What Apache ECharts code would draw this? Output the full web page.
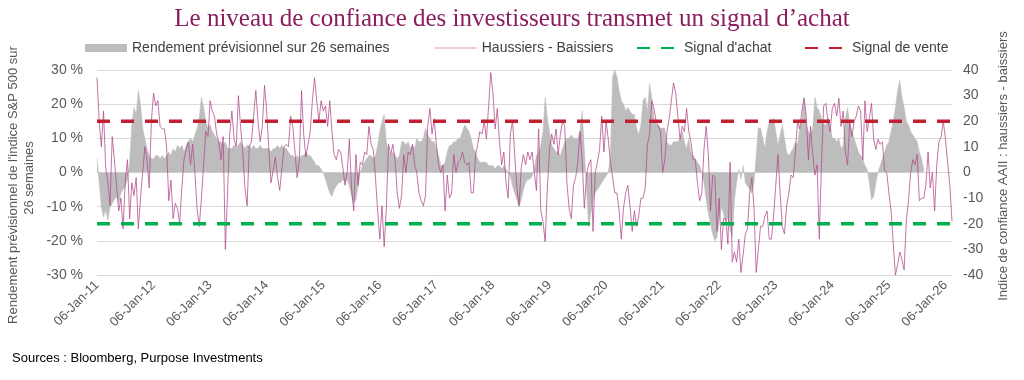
<!DOCTYPE html>
<html><head><meta charset="utf-8">
<script src="https://cdn.jsdelivr.net/npm/echarts@6/dist/echarts.min.js"></script>
<style>html,body{margin:0;padding:0;background:#fff}#c{width:1024px;height:380px}</style>
</head><body><div id="c"></div>
<script>
// Bi-weekly observations starting 06-Jan-2011
const startYear = 2011, startMonth = 0, startDay = 6, stepDays = 14, pointsPerYear = 26;

// Rendement prévisionnel sur 26 semaines (%), left axis
const fwd2011 = [4,-3,-10,-13,-11,-14,-10,-9,-8,-7,-9,-6,-5,-4,-2,3,14,19,17,24,20,13,10,7,5,4];
const fwd2012 = [4,5,5,4,5,4,5,6,5,7,6,8,7,8,6,8,9,10,9,11,13,16,22,19,15,13];
const fwd2013 = [14,12,11,10,9,9,8,9,7,7,7,8,7,8,9,8,7,8,8,7,8,7,7,8,7,7];
const fwd2014 = [7,7,6,7,7,8,7,8,7,7,6,5,5,4,5,4,5,5,6,5,5,4,3,2,2,1];
const fwd2015 = [0,-2,-4,-6,-7,-5,-4,-3,-3,-2,-3,-2,-4,-7,-9,-8,-4,0,2,3,4,5,5,4,5,8];
const fwd2016 = [12,15,17,9,6,5,6,5,4,5,9,9,8,9,7,8,7,10,9,9,10,13,11,10,9,9];
const fwd2017 = [7,5,2,2,3,6,8,8,9,9,10,10,12,14,13,12,10,7,6,4,3,3,3,3,2,2];
const fwd2018 = [2,1,2,2,1,2,1,0,-1,-4,-6,-8,-10,-8,-5,-3,-2,-2,-1,1,5,6,8,12,22,16];
const fwd2019 = [12,8,7,6,6,5,7,9,10,10,11,10,10,10,12,18,7,-5,-16,-12,-8,-6,-5,-4,-3,-2];
const fwd2020 = [-1,0,5,28,30,28,24,21,20,18,19,18,17,17,13,11,14,21,22,18,26,22,16,14,14,13];
const fwd2021 = [13,13,9,8,8,9,9,9,10,12,9,7,10,6,5,4,3,2,0,-3,-8,-12,-15,-18,-20,-19];
const fwd2022 = [-14,-10,-12,-15,-13,-17,-19,-8,-3,1,-2,2,-3,-4,-5,-6,-3,5,13,13,10,7,12,15,15,16];
const fwd2023 = [12,8,11,14,10,6,5,6,7,9,8,13,15,22,14,12,11,13,22,19,18,16,14,14,16,14];
const fwd2024 = [10,10,9,10,7,8,16,19,14,12,10,8,6,5,4,2,1,-3,-8,-7,-3,0,2,4,6,8];
const fwd2025 = [9,12,15,19,24,27,22,19,15,14,12,11,10,9,6,4,1,null,null,null,null,null,null,null,null,null];
const fwd2026 = [null,null,null,null];

// Haussiers - Baissiers (AAII bull-bear spread), right axis
const bb2011 = [37,20,10,24,2,-4,-13,14,5,-5,-15,-10,-22,-3,5,-18,-4,-9,-2,-22,-10,0,10,5,-6,20];
const bb2012 = [31,26,28,18,17,17,10,-11,-3,-18,-12,-14,-20,-6,5,9,12,3,11,0,-14,-21,-10,3,16,14];
const bb2013 = [28,24,22,15,12,5,14,-30,-8,15,24,13,10,30,18,8,-6,-13,10,12,22,32,20,12,18,34];
const bb2014 = [24,9,-4,1,6,-2,-7,2,10,11,10,22,18,8,-2,5,32,15,6,11,16,28,37,28,20,28];
const bb2015 = [24,26,18,28,16,7,5,9,8,2,-5,0,13,-6,-15,7,-5,4,3,8,7,18,11,9,-2,-15];
const bb2016 = [-26,-13,-29,-14,11,7,11,5,-8,-14,-9,7,0,8,7,11,3,0,-8,-11,-13,-9,18,25,15,21];
const bb2017 = [11,3,0,3,-15,-1,-10,-8,7,0,4,5,8,4,3,4,-8,-8,7,11,16,15,20,13,26,39];
const bb2018 = [31,17,25,12,3,8,-4,-10,15,20,7,-6,-13,2,7,3,8,5,8,0,-7,17,-15,-19,-27,-6];
const bb2019 = [9,15,11,17,7,15,20,18,-4,-14,-18,-5,-2,4,16,5,-14,-1,3,5,-23,0,4,9,22,8];
const bb2020 = [20,13,4,-2,-8,-8,-15,-26,-14,-8,-5,-13,-23,-15,-21,-17,-10,-10,-6,11,15,28,25,20,18,16];
const bb2021 = [0,5,16,21,28,35,31,22,13,18,16,25,16,12,5,5,-4,-11,-8,9,18,7,-15,-1,-2,-23];
const bb2022 = [-10,-30,-18,-18,-28,4,-35,-31,-35,-26,-39,-32,-24,-22,-8,-2,-14,-39,-30,-21,-21,-17,-15,-26,-26,-17];
const bb2023 = [-5,7,-8,-21,-24,-13,-8,-1,-2,8,20,17,24,29,22,5,18,7,-1,3,-26,3,26,27,20,16];
const bb2024 = [25,27,22,29,18,24,8,3,20,14,20,22,26,24,5,28,16,21,27,13,9,13,11,12,1,0];
const bb2025 = [-8,-15,-28,-40,-36,-31,-34,-38,-19,-11,0,5,3,7,-11,-10,-10,-5,8,-6,0,-15,3,12,14,20];
const bb2026 = [13,4,-5,-19];

const sellSignal = 20;
const buySignal = -20;

const forwardReturn = [].concat(fwd2011,fwd2012,fwd2013,fwd2014,fwd2015,fwd2016,fwd2017,fwd2018,fwd2019,fwd2020,fwd2021,fwd2022,fwd2023,fwd2024,fwd2025,fwd2026);
const bullBear = [].concat(bb2011,bb2012,bb2013,bb2014,bb2015,bb2016,bb2017,bb2018,bb2019,bb2020,bb2021,bb2022,bb2023,bb2024,bb2025,bb2026);
const categories = bullBear.map((_, i) => new Date(Date.UTC(startYear, startMonth, startDay) + i * stepDays * 864e5).toISOString().slice(0, 10));
const lastCat = categories[categories.length - 1];

const FONT = 'Liberation Sans, Arial, sans-serif';
const NAME_FWD = 'Rendement prévisionnel sur 26 semaines';
const NAME_BB = 'Haussiers - Baissiers';
const NAME_BUY = "Signal d'achat";
const NAME_SELL = 'Signal de vente';

const legendBase = {top: 36, itemWidth: 42, itemHeight: 8, itemGap: 0,
  textStyle: {fontFamily: FONT, fontSize: 14, color: '#404040'}};

const chart = echarts.init(document.getElementById('c'), null, {renderer: 'canvas'});
chart.setOption({
  animation: false,
  backgroundColor: '#ffffff',
  title: {
    text: 'Le niveau de confiance des investisseurs transmet un signal d\u2019achat',
    left: 'center', top: 2,
    textStyle: {fontFamily: 'Liberation Serif, Times New Roman, serif', fontSize: 25, fontWeight: 'normal', color: '#8c1d5e'}
  },
  legend: [
    Object.assign({}, legendBase, {left: 80, data: [{name: NAME_FWD, icon: 'rect'}]}),
    Object.assign({}, legendBase, {left: 429, data: [{name: NAME_BB, itemStyle: {opacity: 0}, lineStyle: {color: '#dcaecb', width: 1.5}}]}),
    Object.assign({}, legendBase, {left: 631, data: [{name: NAME_BUY, itemStyle: {opacity: 0}}]}),
    Object.assign({}, legendBase, {left: 799, data: [{name: NAME_SELL, itemStyle: {opacity: 0}}]})
  ],
  grid: {left: 97, right: 72, top: 70, bottom: 105, containLabel: false},
  xAxis: {
    type: 'category', data: categories, boundaryGap: false,
    axisLine: {show: false}, axisTick: {show: false},
    axisLabel: {
      rotate: 45, margin: 8, fontFamily: FONT, fontSize: 13, color: '#595959',
      interval: (idx) => idx % pointsPerYear === 0,
      formatter: (val, idx) => '06-Jan-' + String((startYear % 100) + Math.round(idx / pointsPerYear)).padStart(2, '0')
    },
    splitLine: {show: false}
  },
  yAxis: [
    {
      type: 'value', min: -30, max: 30, interval: 10,
      axisLine: {show: false}, axisTick: {show: false},
      axisLabel: {formatter: '{value} %', fontFamily: FONT, fontSize: 14, color: '#595959', margin: 14},
      splitLine: {lineStyle: {color: '#d9d9d9', width: 1}}
    },
    {
      type: 'value', min: -40, max: 40, interval: 10, position: 'right',
      axisLine: {show: false}, axisTick: {show: false},
      axisLabel: {fontFamily: FONT, fontSize: 14, color: '#595959', margin: 11},
      splitLine: {show: false}
    }
  ],
  series: [
    {
      name: NAME_FWD, type: 'line', yAxisIndex: 0, data: forwardReturn,
      symbol: 'none', z: 1, color: '#bdbdbd',
      lineStyle: {width: 0.5, color: '#bdbdbd'}, areaStyle: {color: '#bdbdbd', opacity: 1},
      itemStyle: {color: '#bdbdbd'}
    },
    {
      name: NAME_BB, type: 'line', yAxisIndex: 1, data: bullBear,
      symbol: 'none', z: 2, color: '#b04a8a',
      lineStyle: {width: 0.9, color: '#b04a8a', opacity: 0.85}
    },
    {
      name: NAME_BUY, type: 'line', yAxisIndex: 1,
      data: [[categories[0], buySignal], [lastCat, buySignal]],
      symbol: 'none', z: 3, color: '#00b050',
      lineStyle: {width: 3.5, color: '#00b050', type: [13, 11]}
    },
    {
      name: NAME_SELL, type: 'line', yAxisIndex: 1,
      data: [[categories[0], sellSignal], [lastCat, sellSignal]],
      symbol: 'none', z: 3, color: '#c0202f',
      lineStyle: {width: 3.5, color: '#c0202f', type: [13, 11]}
    }
  ],
  graphic: [
    {type: 'text', x: 13, y: 185, rotation: Math.PI / 2,
     style: {text: "Rendement prévisionnel de l'indice S&P 500 sur", font: '13px ' + FONT, fill: '#595959', align: 'center', verticalAlign: 'middle', textAlign: 'center', textVerticalAlign: 'middle'}},
    {type: 'text', x: 29, y: 178, rotation: Math.PI / 2,
     style: {text: '26 semaines', font: '13px ' + FONT, fill: '#595959', align: 'center', verticalAlign: 'middle', textAlign: 'center', textVerticalAlign: 'middle'}},
    {type: 'text', x: 1003, y: 166, rotation: Math.PI / 2,
     style: {text: 'Indice de confiance AAII : haussiers - baissiers', font: '13px ' + FONT, fill: '#595959', align: 'center', verticalAlign: 'middle', textAlign: 'center', textVerticalAlign: 'middle'}},
    {type: 'text', x: 12, y: 358,
     style: {text: 'Sources : Bloomberg, Purpose Investments', font: '13px ' + FONT, fill: '#000000', align: 'left', verticalAlign: 'middle', textAlign: 'left', textVerticalAlign: 'middle'}}
  ]
});
</script></body></html>
